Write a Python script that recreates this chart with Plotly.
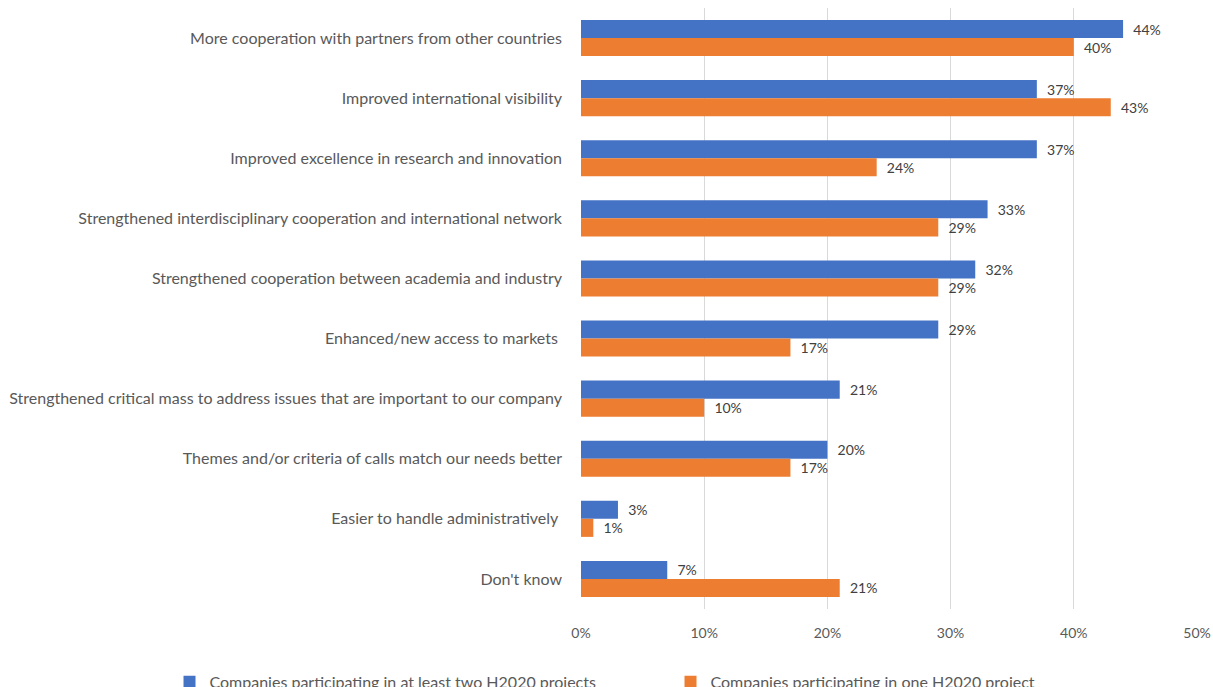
import plotly.graph_objects as go

categories = [
    "More cooperation with partners from other countries",
    "Improved international visibility",
    "Improved excellence in research and innovation",
    "Strengthened interdisciplinary cooperation and international network",
    "Strengthened cooperation between academia and industry",
    "Enhanced/new access to markets ",
    "Strengthened critical mass to address issues that are important to our company",
    "Themes and/or criteria of calls match our needs better",
    "Easier to handle administratively ",
    "Don't know",
]
series_names = [
    "Companies participating in at least two H2020 projects",
    "Companies participating in one H2020 project",
]
two_plus = [44, 37, 37, 33, 32, 29, 21, 20, 3, 7]
one_proj = [40, 43, 24, 29, 29, 17, 10, 17, 1, 21]
tick_vals = [0, 10, 20, 30, 40, 50]
tick_text = ["0%", "10%", "20%", "30%", "40%", "50%"]

FONT = "Lato"
colors = ["#4472C4", "#ED7D31"]

fig = go.Figure()
for name, vals, col in zip(series_names, [two_plus, one_proj], colors):
    fig.add_trace(go.Bar(
        y=categories, x=vals, name=name, orientation="h",
        marker=dict(color=col, line=dict(width=0)),
        text=[f"\u00a0\u00a0{v}%" for v in vals], textposition="outside",
        textfont=dict(color="#404040", size=14, family=FONT),
        cliponaxis=False,
    ))

fig.update_layout(
    width=1213, height=687,
    barmode="group", bargap=0.4, bargroupgap=0,
    paper_bgcolor="white", plot_bgcolor="white",
    margin=dict(l=581, r=16, t=8, b=78, autoexpand=False),
    font=dict(family=FONT, size=15, color="#595959"),
    xaxis=dict(range=[0, 50], tickvals=tick_vals, ticktext=tick_text,
               showgrid=True, gridcolor="#D9D9D9", gridwidth=1,
               zeroline=False, showline=False,
               tickfont=dict(size=14, color="#595959"),
               ticklabelstandoff=14),
    yaxis=dict(autorange="reversed", showgrid=False, zeroline=False,
               showline=False, ticks="", ticklabelstandoff=18,
               tickfont=dict(size=16, color="#595959")),
    legend=dict(orientation="h", x=-0.668, xanchor="left", y=-0.093, yanchor="top",
                entrywidth=456, entrywidthmode="pixels",
                font=dict(size=16, color="#595959"), traceorder="normal"),
    showlegend=True,
)

fig.write_html("out.html", config={"displayModeBar": False},
               post_script="document.body.style.margin='0';document.body.style.overflow='hidden';")
